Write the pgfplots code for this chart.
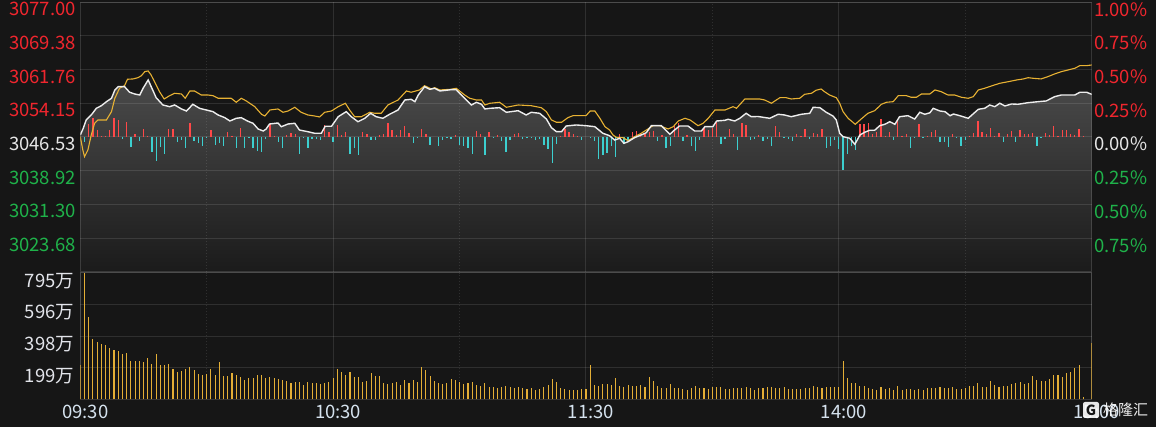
\documentclass[border=0pt]{standalone}
\usepackage{fontspec}
\setmainfont{Noto Sans CJK SC}
\usepackage{pgfplots}
\usepackage{pgfplotstable}
\pgfplotsset{compat=1.18}

\definecolor{bg}{HTML}{161616}
\definecolor{gridc}{HTML}{343434}
\definecolor{cred}{HTML}{F0262E}
\definecolor{cgreen}{HTML}{1FB24A}
\definecolor{cwhite}{HTML}{E6E6E6}
\definecolor{yel}{HTML}{E8B233}
\definecolor{barred}{HTML}{FF4848}
\definecolor{barcyan}{HTML}{3CCFCF}
\definecolor{volc}{HTML}{E3AE36}
\definecolor{fillt}{HTML}{4A4A4A}
\definecolor{fillb}{HTML}{1B1B1B}
\definecolor{timec}{HTML}{D5E2EE}
\definecolor{volab}{HTML}{E2E4EA}

\newcommand\lab{\fontsize{18.5bp}{20bp}\selectfont}

% white line (index)
\pgfplotstableread{
x y
0 3046.98
0.7 3048.50
1.4 3050.38
2.6 3051.51
3.8 3053.02
5 3053.61
6.2 3054.52
7.4 3055.29
8.2 3057.17
9 3057.91
10.5 3057.91
11.7 3056.65
12.9 3056.26
14.1 3056.03
14.9 3057.55
16.1 3059.43
17 3057.55
18 3055.42
19.6 3053.77
21.2 3053.39
22.4 3053.77
24 3052.87
25.2 3052.41
26.7 3053.93
28.3 3053.02
29.9 3052.64
31.5 3052.26
32.7 3051.51
34.3 3050.90
35.5 3050.15
37 3050.76
38.2 3050.90
39.8 3050.08
41 3049.63
42.2 3048.34
43.4 3047.89
44.1 3048.34
44.9 3049.47
46.9 3049.70
47.7 3048.86
49.3 3049.47
50.9 3049.63
52 3048.11
54 3047.73
55.6 3047.37
57.2 3047.37
58.1 3048.95
59.6 3048.95
61.2 3051.12
63.1 3052.26
64.3 3051.12
65.9 3049.99
67.5 3050.76
68.9 3051.89
70.2 3051.12
71.8 3050.76
73.4 3051.67
75.4 3052.64
77 3054.90
78.5 3055.06
79.4 3054.52
80.2 3056.03
81.7 3057.91
82.9 3057.33
84.1 3057.55
85.3 3056.94
88 3057.23
89.2 3057.23
90.8 3055.65
92.8 3053.77
94 3054.38
95.2 3053.93
96 3052.87
97.2 3053.02
99.5 3053.16
101.1 3052.12
103.9 3052.48
105.8 3051.51
107 3052.12
109 3051.89
110.6 3050.60
111.8 3048.63
113 3047.73
114.2 3047.73
115.3 3049.02
117.7 3049.25
120 3049.09
122.1 3048.86
124 3047.37
125.6 3046.82
126.8 3045.85
128 3046.24
129 3045.10
130 3045.47
131.5 3046.37
133.1 3046.98
134.3 3047.50
135.5 3049.09
137.9 3049.09
139.9 3047.14
141 3048.11
142.2 3049.02
144.2 3049.02
145.8 3047.89
147.4 3047.89
148.2 3048.86
150.1 3048.86
151 3050.15
153 3050.31
153.7 3050.54
155.3 3050.15
156.5 3050.76
158 3051.89
159.2 3051.12
160.8 3051.17
163.6 3050.76
165.6 3051.67
167.1 3051.51
168.7 3051.12
171.1 3051.67
173.1 3051.89
173.9 3053.25
175.5 3053.16
177 3052.12
178.6 3051.28
179.4 3050.38
180.2 3047.37
181 3046.60
182.6 3046.24
183.8 3044.88
185 3046.98
186.1 3047.59
187.3 3048.05
188.5 3048.05
189.7 3049.09
190.9 3049.40
192.1 3049.99
193.3 3049.40
194.4 3051.12
196.4 3051.35
198 3050.60
199.2 3052.12
200.4 3051.67
201.6 3052.01
202.4 3053.02
204 3052.41
205.2 3052.26
206.4 3051.35
207.2 3051.73
208.7 3051.35
210.7 3050.76
213.1 3052.80
214.6 3053.02
215.8 3053.77
217 3053.39
218.2 3054.16
219.4 3053.55
221 3054.00
222.5 3053.93
224.9 3054.29
227.3 3054.52
229.2 3054.68
231.2 3055.65
232.8 3056.03
234.4 3056.03
236 3056.03
237.2 3056.65
238.8 3056.65
240 3056.19
}\whitetab

% area under the white line, closed at the panel bottom
\pgfplotstableread{
x y
0 3016.06
0 3046.98
0.7 3048.50
1.4 3050.38
2.6 3051.51
3.8 3053.02
5 3053.61
6.2 3054.52
7.4 3055.29
8.2 3057.17
9 3057.91
10.5 3057.91
11.7 3056.65
12.9 3056.26
14.1 3056.03
14.9 3057.55
16.1 3059.43
17 3057.55
18 3055.42
19.6 3053.77
21.2 3053.39
22.4 3053.77
24 3052.87
25.2 3052.41
26.7 3053.93
28.3 3053.02
29.9 3052.64
31.5 3052.26
32.7 3051.51
34.3 3050.90
35.5 3050.15
37 3050.76
38.2 3050.90
39.8 3050.08
41 3049.63
42.2 3048.34
43.4 3047.89
44.1 3048.34
44.9 3049.47
46.9 3049.70
47.7 3048.86
49.3 3049.47
50.9 3049.63
52 3048.11
54 3047.73
55.6 3047.37
57.2 3047.37
58.1 3048.95
59.6 3048.95
61.2 3051.12
63.1 3052.26
64.3 3051.12
65.9 3049.99
67.5 3050.76
68.9 3051.89
70.2 3051.12
71.8 3050.76
73.4 3051.67
75.4 3052.64
77 3054.90
78.5 3055.06
79.4 3054.52
80.2 3056.03
81.7 3057.91
82.9 3057.33
84.1 3057.55
85.3 3056.94
88 3057.23
89.2 3057.23
90.8 3055.65
92.8 3053.77
94 3054.38
95.2 3053.93
96 3052.87
97.2 3053.02
99.5 3053.16
101.1 3052.12
103.9 3052.48
105.8 3051.51
107 3052.12
109 3051.89
110.6 3050.60
111.8 3048.63
113 3047.73
114.2 3047.73
115.3 3049.02
117.7 3049.25
120 3049.09
122.1 3048.86
124 3047.37
125.6 3046.82
126.8 3045.85
128 3046.24
129 3045.10
130 3045.47
131.5 3046.37
133.1 3046.98
134.3 3047.50
135.5 3049.09
137.9 3049.09
139.9 3047.14
141 3048.11
142.2 3049.02
144.2 3049.02
145.8 3047.89
147.4 3047.89
148.2 3048.86
150.1 3048.86
151 3050.15
153 3050.31
153.7 3050.54
155.3 3050.15
156.5 3050.76
158 3051.89
159.2 3051.12
160.8 3051.17
163.6 3050.76
165.6 3051.67
167.1 3051.51
168.7 3051.12
171.1 3051.67
173.1 3051.89
173.9 3053.25
175.5 3053.16
177 3052.12
178.6 3051.28
179.4 3050.38
180.2 3047.37
181 3046.60
182.6 3046.24
183.8 3044.88
185 3046.98
186.1 3047.59
187.3 3048.05
188.5 3048.05
189.7 3049.09
190.9 3049.40
192.1 3049.99
193.3 3049.40
194.4 3051.12
196.4 3051.35
198 3050.60
199.2 3052.12
200.4 3051.67
201.6 3052.01
202.4 3053.02
204 3052.41
205.2 3052.26
206.4 3051.35
207.2 3051.73
208.7 3051.35
210.7 3050.76
213.1 3052.80
214.6 3053.02
215.8 3053.77
217 3053.39
218.2 3054.16
219.4 3053.55
221 3054.00
222.5 3053.93
224.9 3054.29
227.3 3054.52
229.2 3054.68
231.2 3055.65
232.8 3056.03
234.4 3056.03
236 3056.03
237.2 3056.65
238.8 3056.65
240 3056.19
240 3016.06
}\filltab

% yellow line (average)
\pgfplotstableread{
x y
0 3046.60
0.6 3043.59
1 3042.07
1.8 3043.59
2.6 3046.98
3.4 3049.63
4.2 3050.38
6.2 3050.38
7.4 3052.26
8.2 3055.29
9.3 3057.55
10.5 3058.14
11.2 3059.59
12.5 3059.66
13.7 3059.95
14.5 3060.40
15.3 3061.31
16.1 3061.47
16.8 3060.56
17.8 3058.68
18.8 3056.78
19.9 3055.13
21.2 3055.88
22.4 3056.42
24 3056.26
24.9 3055.29
26 3056.94
27.1 3056.94
28.7 3056.03
30.3 3056.03
31.5 3055.88
32.7 3055.29
35.8 3055.29
37 3054.38
38.2 3055.29
39.4 3054.68
41.4 3053.39
43 3051.67
43.8 3051.28
45 3052.64
46.9 3052.87
48.1 3052.12
49.3 3052.41
50.9 3053.25
52.4 3052.12
54 3051.51
55.6 3051.28
56.8 3051.06
58 3052.12
59.6 3052.41
61.2 3053.39
62.9 3054.16
63.9 3052.64
65.1 3051.12
66.7 3051.12
68.7 3052.12
69.9 3051.89
71.4 3051.89
73 3053.77
75.4 3054.90
77.4 3056.94
78.5 3056.65
80.5 3057.17
81.7 3058.14
83.3 3057.39
84.1 3057.69
85.3 3057.17
88 3057.33
89.2 3057.55
91.2 3056.03
92.4 3055.29
94 3054.90
95.2 3054.90
96 3053.77
97.2 3054.16
99.5 3054.38
101.1 3053.25
103.9 3053.77
107 3053.61
109.4 3053.16
110.6 3052.26
111.8 3050.38
113 3049.86
114.2 3049.86
115.7 3050.90
116.9 3051.35
120 3051.35
121 3052.41
122.1 3052.41
123.3 3050.76
124.5 3048.86
125.6 3048.11
126.4 3046.98
127.2 3046.46
128.8 3046.37
130 3045.69
131.5 3046.60
133.1 3047.37
134.7 3048.34
135.9 3049.09
137.5 3049.09
139.5 3048.34
140.7 3048.86
141.9 3050.15
143.5 3050.76
144.7 3050.38
146.6 3049.09
147.8 3049.63
149 3050.76
150.6 3052.64
153 3052.64
154.9 3053.39
155.7 3053.02
157.7 3055.13
161.2 3055.13
162.4 3054.90
164 3054.16
166 3055.42
167.5 3055.42
168.7 3055.13
170.7 3055.29
171.9 3056.19
173.5 3056.42
174.6 3057.10
175.8 3057.39
176.6 3056.78
177.8 3056.03
179.4 3055.42
180.2 3054.16
181 3052.26
182.2 3050.76
183.9 3049.40
185.3 3050.60
186.9 3051.89
188.5 3052.48
190.1 3053.93
191.3 3054.38
192.9 3054.52
194.1 3055.88
196 3055.88
197.2 3055.51
198.4 3055.51
199.6 3056.26
201.6 3056.26
202.8 3057.17
204.3 3056.78
205.9 3056.03
207.5 3056.03
209.1 3055.51
210.7 3055.29
211.9 3055.65
213.1 3057.17
214.6 3057.55
216.2 3058.07
218.2 3058.68
220.2 3059.04
222.2 3059.43
223.8 3059.66
224.9 3059.95
226.1 3059.81
228 3059.66
229.6 3060.18
231.2 3060.79
232.8 3061.31
234.4 3061.69
236 3062.08
237.2 3062.67
238.8 3062.67
240 3062.82
}\yeltab

% red bars (offset from 3046.53)
\pgfplotstableread{
x y
2 2.94
3 4.37
4 1.58
5 0.15
6 0.15
7 1.58
8 4.37
9 3.85
11 3.47
13 0.68
15 1.81
16 0.15
21 1.81
22 1.81
26 3.17
31 1.51
35 1.06
36 0.15
38 1.96
45 2.94
46 0.15
49 0.45
50 0.98
51 0.68
58 2.72
59 1.06
61 2.72
62 0.45
63 1.21
67 1.21
68 0.68
71 0.45
72 0.75
73 3.17
74 1.51
75 0.45
76 1.58
77 2.49
78 0.90
81 1.81
82 0.68
89 0.45
94 1.36
95 0.68
97 1.06
99 0.45
103 0.68
104 0.90
114 0.15
115 1.81
116 1.21
117 0.68
118 0.30
128 0.60
131 1.13
132 1.36
133 0.75
134 0.68
135 1.06
136 1.36
138 0.45
141 2.49
142 3.09
144 0.45
148 2.11
149 1.51
150 2.11
151 3.70
154 1.81
155 0.60
157 3.09
158 2.72
161 0.45
165 2.41
166 1.21
170 0.68
171 0.30
172 1.81
174 0.83
175 0.68
176 1.81
185 3.02
186 3.02
187 3.17
188 0.75
189 1.06
190 4.07
191 0.30
192 1.13
194 4.00
195 0.15
196 0.68
199 2.94
201 0.30
202 1.13
203 1.51
207 0.68
211 0.15
212 0.90
213 3.62
214 1.13
215 0.68
216 2.11
217 0.15
218 0.90
220 0.68
221 1.36
223 1.58
224 0.60
225 0.75
226 0.90
229 0.98
230 0.45
231 2.49
232 0.15
233 1.58
234 1.51
235 0.68
236 0.38
237 1.89
238 0.30
}\redtab

% cyan bars (offset from 3046.53)
\pgfplotstableread{
x y
1 -1.06
10 -0.45
12 -2.26
14 -0.90
17 -3.32
18 -5.43
19 -2.19
20 -3.85
23 -1.21
24 -0.68
25 -2.41
27 -0.90
28 -1.43
29 -2.04
30 -0.30
32 -1.81
33 -1.43
34 -1.96
37 -2.41
39 -2.56
40 -0.30
41 -2.41
42 -3.17
43 -3.47
44 -0.53
47 -1.06
48 -2.56
52 -3.77
53 -0.30
54 -2.41
55 -0.45
56 -0.45
57 -0.68
60 -1.06
64 -3.77
65 -2.41
66 -4.07
69 -0.75
70 -0.60
79 -1.36
80 -0.30
83 -1.81
85 -1.96
86 -0.68
87 -0.15
88 -0.45
90 -1.81
91 -1.96
92 -2.41
93 -3.77
96 -4.07
98 -0.30
100 -0.90
101 -3.32
102 -0.60
105 -0.45
106 -0.30
107 -0.30
108 -0.60
109 -0.45
110 -1.81
111 -2.64
112 -5.81
113 -1.51
119 -0.68
121 -0.15
122 -0.90
123 -4.98
124 -4.07
125 -3.70
126 -1.96
127 -4.45
129 -1.66
130 -0.68
137 -0.90
139 -2.41
140 -1.96
143 -0.90
145 -1.96
146 -3.09
147 -0.75
152 -1.51
153 -0.53
156 -2.94
159 -0.75
160 -0.53
162 -0.90
163 -0.45
164 -1.96
167 -0.15
168 -0.45
169 -0.90
173 -0.53
177 -2.41
178 -1.96
179 -0.75
180 -2.72
181 -7.54
182 -3.77
183 -2.11
184 -3.02
193 -0.60
197 -2.41
198 -0.15
200 -0.30
204 -1.06
205 -1.21
206 -2.19
208 -0.30
209 -1.96
210 -0.60
219 -1.06
222 -1.06
227 -1.96
228 -0.15
}\cyantab

% volume (10k shares)
\pgfplotstableread{
x y
0 215
1 795
2 515
3 379
4 362
5 347
6 341
7 324
8 310
9 303
10 285
11 291
12 243
13 243
14 243
15 236
16 259
17 222
18 285
19 215
20 215
21 222
22 190
23 174
24 180
25 190
26 203
27 184
28 159
29 153
30 159
31 190
32 153
33 234
34 146
35 146
36 163
37 151
38 138
39 121
40 134
41 134
42 151
43 155
44 134
45 140
46 134
47 128
48 121
49 117
50 103
51 107
52 107
53 90
54 107
55 103
56 103
57 98
58 103
59 109
60 136
61 190
62 172
63 153
64 172
65 138
66 140
67 109
68 117
69 165
70 149
71 146
72 100
73 96
74 103
75 107
76 90
77 121
78 103
79 121
80 109
81 203
82 184
83 146
84 115
85 103
86 96
87 103
88 128
89 121
90 107
91 94
92 103
93 109
94 90
95 84
96 103
97 77
98 77
99 69
100 77
101 84
102 77
103 69
104 77
105 71
106 65
107 71
108 61
109 65
110 77
111 90
112 128
113 109
114 71
115 65
116 59
117 59
118 61
119 65
120 65
121 213
122 90
123 84
124 96
125 96
126 90
127 134
128 84
129 77
130 90
131 84
132 84
133 90
134 77
135 140
136 115
137 84
138 71
139 71
140 96
141 71
142 71
143 65
144 61
145 71
146 84
147 71
148 71
149 65
150 77
151 77
152 77
153 65
154 65
155 71
156 71
157 71
158 77
159 71
160 61
161 71
162 71
163 77
164 77
165 71
166 71
167 77
168 65
169 65
170 65
171 65
172 71
173 71
174 84
175 77
176 71
177 77
178 77
179 77
180 77
181 241
182 134
183 103
184 103
185 84
186 84
187 71
188 65
189 61
190 77
191 65
192 71
193 61
194 84
195 61
196 65
197 65
198 61
199 65
200 61
201 71
202 71
203 71
204 77
205 71
206 71
207 77
208 65
209 65
210 71
211 84
212 84
213 103
214 77
215 77
216 115
217 90
218 77
219 84
220 84
221 96
222 103
223 109
224 96
225 103
226 146
227 121
228 115
229 115
230 128
231 153
232 153
233 140
234 165
235 172
236 197
237 215
238 17
239 0
240 354
}\voltab

\begin{document}
\begin{tikzpicture}
\fill[bg] (0,0) rectangle (1156bp,427bp);
\useasboundingbox (0,0) rectangle (1156bp,427bp);

% ---------- top panel: shaded area + left labels ----------
\begin{axis}[
  at={(80.3bp,155.3bp)}, anchor=south west,
  scale only axis, width=1011.4bp, height=269.4bp,
  xmin=0, xmax=240, ymin=3016.06, ymax=3077.00,
  axis line style={draw=none}, tick style={draw=none},
  xtick=\empty,
  ytick={3023.68,3031.30,3038.92,3046.53,3054.15,3061.76,3069.38,3077.00},
  yticklabel={\ifcase\ticknum \textcolor{cgreen}{3023.68}\or \textcolor{cgreen}{3031.30}\or \textcolor{cgreen}{3038.92}\or \textcolor{cwhite}{3046.53}\or \textcolor{cred}{3054.15}\or \textcolor{cred}{3061.76}\or \textcolor{cred}{3069.38}\or \textcolor{cred}{3077.00}\fi},
  yticklabel style={anchor=north east, inner sep=0pt, xshift=-4.3bp, font=\lab},
]
\addplot[draw=none, top color=fillt, bottom color=fillb, mark=none] table {\filltab};
\end{axis}

% ---------- top panel: grid, red/cyan bars, right labels ----------
\begin{axis}[
  at={(80.3bp,155.3bp)}, anchor=south west,
  scale only axis, width=1011.4bp, height=269.4bp,
  xmin=0, xmax=240, ymin=-30.47, ymax=30.47,
  axis line style={draw=white, draw opacity=0.14, line width=1bp},
  tick style={draw=none},
  xtick={60,120,180}, minor xtick={30,90,150,210}, xticklabels={},
  xmajorgrids, xminorgrids, ymajorgrids,
  major grid style={white, draw opacity=0.11, line width=1bp},
  minor grid style={white, draw opacity=0.11, line width=1bp, dash pattern=on 1bp off 2bp},
  ytick={-22.85,-15.23,-7.62,0,7.62,15.23,22.85,30.47},
  yticklabel pos=right,
  yticklabel={\ifcase\ticknum \textcolor{cgreen}{0.75\%}\or \textcolor{cgreen}{0.50\%}\or \textcolor{cgreen}{0.25\%}\or \textcolor{cwhite}{0.00\%}\or \textcolor{cred}{0.25\%}\or \textcolor{cred}{0.50\%}\or \textcolor{cred}{0.75\%}\or \textcolor{cred}{1.00\%}\fi},
  yticklabel style={anchor=north west, inner sep=0pt, xshift=2.3bp, font=\lab},
]
\addplot[ycomb, barred, line width=1.3bp, mark=none] table {\redtab};
\addplot[ycomb, barcyan, line width=1.3bp, mark=none] table {\cyantab};
\end{axis}

% ---------- top panel: lines ----------
\begin{axis}[
  at={(80.3bp,155.3bp)}, anchor=south west,
  scale only axis, width=1011.4bp, height=269.4bp,
  xmin=0, xmax=240, ymin=3016.06, ymax=3077.00,
  hide axis,
]
\addplot[yel, line width=1.1bp, mark=none] table {\yeltab};
\addplot[white!93!black, line width=1.4bp, mark=none] table {\whitetab};
\end{axis}

% ---------- volume panel ----------
\begin{axis}[
  at={(80.3bp,27.7bp)}, anchor=south west,
  scale only axis, width=1011.4bp, height=126.6bp,
  xmin=0, xmax=240, ymin=0, ymax=795,
  axis line style={draw=white, draw opacity=0.14, line width=1bp},
  xtick={0,60,120,180,240}, xticklabels={09:30,10:30,11:30,14:00,15:00},
  minor xtick={30,90,150,210},
  xmajorgrids, xminorgrids, ymajorgrids,
  major grid style={white, draw opacity=0.11, line width=1bp},
  minor grid style={white, draw opacity=0.11, line width=1bp, dash pattern=on 1bp off 2bp},
  tick style={draw=none},
  ytick={198.75,397.5,596.25,795},
  yticklabels={199万,398万,596万,795万},
  yticklabel style={anchor=north east, inner sep=0pt, xshift=-6bp, font=\lab, text=volab},
  xticklabel style={anchor=north, inner sep=0pt, xshift=5bp, yshift=-5.7bp, font=\lab, text=timec},
]
\addplot[ycomb, volc, line width=1.1bp, mark=none] table {\voltab};
\end{axis}

% watermark
\node[fill=white, fill opacity=0.9, text opacity=1, rounded corners=2bp, minimum size=16bp, inner sep=0pt, text=bg, font=\fontsize{14bp}{14bp}\selectfont\bfseries] at (1091bp,17bp) {G};
\node[anchor=west, inner sep=0pt, text=white, text opacity=0.92, font=\fontsize{15bp}{16bp}\selectfont] at (1103bp,17bp) {格隆汇};
\end{tikzpicture}
\end{document}
